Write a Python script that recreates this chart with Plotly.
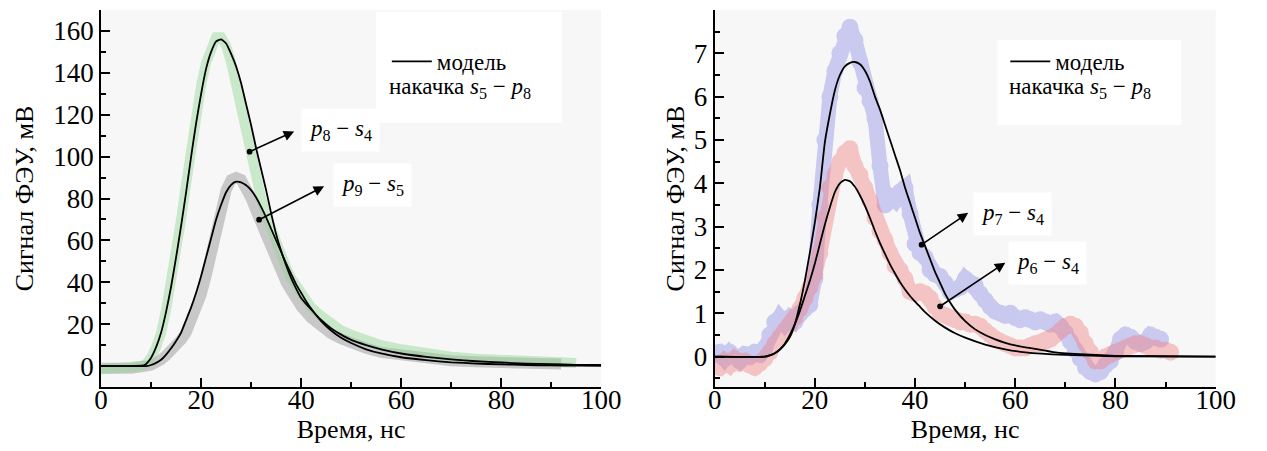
import plotly.graph_objects as go

# ---------------- Left panel data ----------------
green_model_t = [0, 5, 8.5, 9, 10, 11, 12, 13, 14, 15, 16, 17, 18, 19, 20, 21, 22, 23, 24, 25, 26, 27, 28, 29, 30,
                 31, 32, 33, 34, 35, 36, 37, 38, 39, 40, 42, 44, 46, 48, 50, 53, 56, 60, 65, 70, 75, 80, 85, 90, 95, 100]
green_model_v = [0, 0, 0.3, 1, 4, 9, 16, 26, 38, 52, 67, 83, 100, 116, 130, 142, 150, 155, 156, 154, 149, 143, 135,
                 125, 115, 104, 94, 84, 73, 63, 55, 48, 42, 37, 32.5, 27, 22, 18, 15, 12.5, 10, 8, 6, 4.4, 3.2, 2.3,
                 1.7, 1.2, 0.9, 0.6, 0.5]

grey_model_t = [0, 5, 9, 10, 11, 12, 13, 14, 15, 16, 17, 18, 19, 20, 21, 22, 23, 24, 25, 26, 27, 28, 29, 30, 31, 32,
                33, 34, 35, 36, 37, 38, 39, 40, 41, 42, 44, 46, 48, 50, 53, 56, 60, 65, 70, 75, 80, 85, 90, 95, 100]
grey_model_v = [0, 0, 0, 0.5, 1.5, 3, 5.5, 8.5, 12, 16, 22, 28, 35, 43, 52, 61, 70, 77, 83, 86.5, 88, 87.7, 86.3, 84,
                80.5, 76, 71, 65.5, 60, 54.5, 49, 44, 39, 35, 31, 27.5, 21.5, 17, 13.5, 11, 8, 6, 4.2, 2.8, 1.8, 1.2,
                0.8, 0.5, 0.3, 0.2, 0.1]

green_data_t = [0, 2, 4, 6, 8, 9, 10, 11, 12, 13, 14, 15, 16, 17, 18, 19, 20, 21, 22, 23, 24, 25, 26, 27, 28, 29, 30,
                31, 32, 33, 34, 35, 36, 37, 38, 39, 40, 42, 44, 46, 48, 50, 53, 56, 60, 65, 70, 75, 80, 85, 90, 95]
green_data_v = [-1.5, -1, -1.5, -1, 0, 1, 4, 9, 16, 27, 40, 55, 70, 87, 104, 120, 134, 145, 153, 157, 157, 153, 145,
                134, 122, 110, 99, 89, 80, 72, 65, 58, 52, 47, 42, 38, 34, 28, 24, 20, 17, 15, 12, 10, 8, 6, 4.5, 3.5,
                2.8, 2.2, 1.8, 1.5]

grey_data_t = [0, 2, 4, 6, 8, 9, 10, 11, 12, 13, 14, 15, 16, 17, 18, 19, 20, 21, 22, 23, 24, 25, 26, 27, 28, 29, 30,
               31, 32, 33, 34, 35, 36, 37, 38, 39, 40, 42, 44, 46, 48, 50, 53, 56, 60, 65, 70, 75, 80, 85, 92]
grey_data_v = [-1, -1.5, -1, -1, -1, 0, 0.5, 1.5, 3, 5, 7, 9.5, 12.5, 16, 21, 27, 34, 43, 53, 64, 75, 84, 89, 90, 89,
               85, 80, 74, 68, 62, 56, 50, 45, 40, 36, 32, 28.5, 23, 19, 15.5, 13, 11, 8.5, 6.5, 5, 3.5, 2.5, 2, 1.5,
               1.2, 1]

# ---------------- Right panel data ----------------
blue_model_t = [0, 10, 11, 12, 13, 14, 15, 16, 17, 18, 19, 20, 21, 22, 23, 24, 25, 26, 27, 28, 29, 30, 31, 32, 33,
                34, 35, 36, 37, 38, 39, 40, 41, 42, 43, 44, 45, 46, 47, 48, 50, 52, 54, 56, 58, 60, 64, 68, 74, 80,
                100]
blue_model_v = [0, 0, 0.03, 0.08, 0.16, 0.28, 0.45, 0.75, 1.2, 1.75, 2.4, 3.1, 3.9, 4.95, 5.6, 6.15, 6.5, 6.7, 6.78,
                6.8, 6.75, 6.6, 6.35, 6.0, 5.7, 5.35, 5.0, 4.65, 4.3, 3.9, 3.55, 3.2, 2.85, 2.55, 2.25, 1.95, 1.7,
                1.45, 1.25, 1.08, 0.82, 0.63, 0.5, 0.4, 0.32, 0.26, 0.18, 0.1, 0.05, 0.02, 0]

pink_model_t = [0, 10, 11, 12, 13, 14, 15, 16, 17, 18, 19, 20, 21, 22, 23, 24, 25, 26, 27, 28, 29, 30, 31, 32, 33,
                34, 35, 36, 37, 38, 39, 40, 41, 42, 44, 46, 48, 50, 54, 58, 62, 70, 80, 100]
pink_model_v = [0, 0, 0.03, 0.08, 0.17, 0.3, 0.5, 0.75, 1.05, 1.4, 1.75, 2.15, 2.6, 3.05, 3.45, 3.8, 4.0, 4.08, 4.05,
                3.92, 3.72, 3.48, 3.2, 2.9, 2.62, 2.37, 2.13, 1.92, 1.72, 1.55, 1.4, 1.27, 1.15, 1.03, 0.83, 0.67,
                0.54, 0.44, 0.28, 0.17, 0.1, 0.04, 0.01, 0]

blue_data_t = list(range(0, 90))
blue_data_v = [0.05, 0.1, -0.05, 0.1, 0.0, -0.1, 0.05, 0.0, 0.1, 0.05, 0.2, 0.5, 0.8, 0.9, 0.75, 0.9, 0.8, 1.0, 1.1,
               1.2, 1.8, 3.5, 5.0, 6.0, 6.6, 7.0, 7.4, 7.6, 7.3, 6.8, 6.2, 5.9, 5.5, 4.4, 3.5, 3.7, 3.6, 3.8, 3.9,
               3.3, 2.6, 2.4, 2.3, 2.0, 1.9, 1.85, 1.7, 1.5, 1.55, 1.6, 1.8, 1.7, 1.65, 1.45, 1.3, 1.15, 1.05, 1.0,
               0.95, 1.0, 0.9, 0.85, 0.9, 0.85, 0.8, 0.85, 0.8, 0.75, 0.8, 0.7, 0.55, 0.35, 0.15, -0.05, -0.25,
               -0.35, -0.4, -0.35, -0.2, -0.1, 0.1, 0.4, 0.5, 0.45, 0.35, 0.3, 0.35, 0.5, 0.45, 0.4]

pink_data_t = list(range(0, 92))
pink_data_v = [-0.2, -0.25, -0.1, -0.2, -0.05, -0.15, -0.1, -0.2, -0.25, -0.15, -0.05, 0.1, 0.3, 0.45, 0.6, 0.75,
               0.9, 1.1, 1.35, 1.6, 1.9, 2.4, 3.2, 3.9, 4.2, 4.5, 4.7, 4.8, 4.4, 4.2, 3.9, 3.6, 3.2, 2.9, 2.7, 2.4,
               2.1, 2.0, 1.8, 1.5, 1.45, 1.5, 1.45, 1.35, 1.15, 1.0, 0.95, 0.9, 0.85, 0.8, 0.8, 0.75, 0.75, 0.7,
               0.6, 0.5, 0.4, 0.35, 0.3, 0.25, 0.2, 0.2, 0.2, 0.25, 0.3, 0.3, 0.35, 0.4, 0.5, 0.6, 0.7, 0.75, 0.7,
               0.55, 0.3, 0.1, -0.1, -0.1, 0.0, 0.05, 0.1, 0.15, 0.2, 0.25, 0.3, 0.3, 0.25, 0.2, 0.2, 0.15, 0.15,
               0.1]

x_ticks = [0, 20, 40, 60, 80, 100]
y_ticks_left = [0, 20, 40, 60, 80, 100, 120, 140, 160]
y_ticks_right = [0, 1, 2, 3, 4, 5, 6, 7]

legend_line = "модель"
legend_pump = "накачка <i>s</i><sub>5</sub> − <i>p</i><sub>8</sub>"
label_p8s4 = "<i>p</i><sub>8</sub> − <i>s</i><sub>4</sub>"
label_p9s5 = "<i>p</i><sub>9</sub> − <i>s</i><sub>5</sub>"
label_p7s4 = "<i>p</i><sub>7</sub> − <i>s</i><sub>4</sub>"
label_p6s4 = "<i>p</i><sub>6</sub> − <i>s</i><sub>4</sub>"
x_title = "Время, нс"
y_title = "Сигнал ФЭУ, мВ"

FONT = "Liberation Serif, Times New Roman, DejaVu Serif, serif"
# the page body has an 8px default margin: the figure is sized/positioned to compensate
OFF = 8
W, H = 1267 - OFF, 451 - OFF

def px(p):
    return (p - OFF) / W

def py(p):
    return 1 - (p - OFF) / H

fig = go.Figure()

# data bands
fig.add_trace(go.Scatter(x=grey_data_t, y=grey_data_v, mode="lines", line=dict(color="#9a9a9a", width=11),
                         opacity=0.5, showlegend=False, xaxis="x", yaxis="y", hoverinfo="skip"))
fig.add_trace(go.Scatter(x=green_data_t, y=green_data_v, mode="lines", line=dict(color="#92d492", width=10),
                         opacity=0.45, showlegend=False, xaxis="x", yaxis="y", hoverinfo="skip"))
fig.add_trace(go.Scatter(x=blue_data_t, y=blue_data_v, mode="lines+markers",
                         line=dict(color="#8c8ce6", width=15), marker=dict(color="#8c8ce6", size=17),
                         opacity=0.42, showlegend=False, xaxis="x2", yaxis="y2", hoverinfo="skip"))
fig.add_trace(go.Scatter(x=pink_data_t, y=pink_data_v, mode="lines+markers",
                         line=dict(color="#f07c7c", width=15), marker=dict(color="#f07c7c", size=17),
                         opacity=0.42, showlegend=False, xaxis="x2", yaxis="y2", hoverinfo="skip"))

# model curves
mline = dict(color="black", width=1.8, shape="spline", smoothing=0.5)
fig.add_trace(go.Scatter(x=green_model_t, y=green_model_v, mode="lines", line=mline, name=legend_line,
                         showlegend=True, legend="legend", xaxis="x", yaxis="y"))
fig.add_trace(go.Scatter(x=grey_model_t, y=grey_model_v, mode="lines", line=mline, showlegend=False,
                         xaxis="x", yaxis="y"))
fig.add_trace(go.Scatter(x=blue_model_t, y=blue_model_v, mode="lines", line=mline, name=legend_line,
                         showlegend=True, legend="legend2", xaxis="x2", yaxis="y2"))
fig.add_trace(go.Scatter(x=pink_model_t, y=pink_model_v, mode="lines", line=mline, showlegend=False,
                         xaxis="x2", yaxis="y2"))

tickfont = dict(family=FONT, size=27, color="black")
titlefont = dict(family=FONT, size=26, color="black")

def xaxis(domain, anchor):
    return dict(domain=domain, anchor=anchor, range=[0, 100], tickmode="array", tickvals=x_ticks,
                ticks="inside", ticklen=9, tickwidth=2, tickcolor="black", showline=True, linewidth=2,
                linecolor="black", showgrid=False, zeroline=False, tickfont=tickfont, ticklabelstandoff=-12,
                title=dict(text=x_title, font=titlefont, standoff=0),
                minor=dict(dtick=10, tick0=0, ticks="inside", ticklen=5, tickwidth=2, tickcolor="black",
                           showgrid=False))

def yaxis(domain, anchor, rng, ticks, minor_dtick, standoff):
    return dict(domain=domain, anchor=anchor, range=rng, tickmode="array", tickvals=ticks,
                ticks="inside", ticklen=9, tickwidth=2, tickcolor="black", showline=True, linewidth=2,
                linecolor="black", showgrid=False, zeroline=False, tickfont=tickfont,
                title=dict(text=y_title, font=titlefont, standoff=standoff),
                minor=dict(dtick=minor_dtick, tick0=0, ticks="inside", ticklen=5, tickwidth=2,
                           tickcolor="black", showgrid=False))

xd1 = [px(96), px(607)]
xd2 = [px(723), px(1235)]
yd = [py(387), py(10)]

legend_style = dict(font=dict(family=FONT, size=23, color="black"), bgcolor="rgba(0,0,0,0)", borderwidth=0,
                    xanchor="left", yanchor="top", itemwidth=40, tracegroupgap=0)

fig.update_layout(
    width=W, height=H, autosize=False,
    margin=dict(l=0, r=0, t=0, b=0),
    paper_bgcolor="white", plot_bgcolor="#f7f7f7",
    font=dict(family=FONT, color="black"),
    xaxis=xaxis(xd1, "y"), yaxis=yaxis(yd, "x", [-10, 170], y_ticks_left, 10, 12),
    xaxis2=xaxis(xd2, "y2"), yaxis2=yaxis(yd, "x2", [-0.7, 8.0], y_ticks_right, 0.5, 2),
    legend=dict(x=px(388), y=py(40), **legend_style),
    legend2=dict(x=px(1020), y=py(40), **legend_style),
)

# white boxes behind the key (paper background of the original figure)
shapes = [
    dict(type="rect", xref="paper", yref="paper", x0=px(377), x1=px(567), y0=py(123), y1=py(12),
         fillcolor="white", line=dict(width=0), layer="below"),
    dict(type="rect", xref="paper", yref="paper", x0=px(1012), x1=px(1200), y0=py(125), y1=py(40),
         fillcolor="white", line=dict(width=0), layer="below"),
]
fig.update_layout(shapes=shapes)

ann_font = dict(family=FONT, size=23, color="black")
annotations = [
    dict(text=legend_pump, xref="paper", yref="paper", x=px(388), y=py(88), xanchor="left",
         yanchor="middle", showarrow=False, font=ann_font),
    dict(text=legend_pump, xref="paper", yref="paper", x=px(1022), y=py(88), xanchor="left",
         yanchor="middle", showarrow=False, font=ann_font),
    # text labels
    dict(text=label_p8s4, xref="x", yref="y", x=39.9, y=112.5, xanchor="left", yanchor="middle",
         showarrow=False, font=ann_font, bgcolor="white", borderpad=7),
    dict(text=label_p9s5, xref="x", yref="y", x=46.4, y=86.5, xanchor="left", yanchor="middle",
         showarrow=False, font=ann_font, bgcolor="white", borderpad=7),
    dict(text=label_p7s4, xref="x2", yref="y2", x=51.6, y=3.3, xanchor="left", yanchor="middle",
         showarrow=False, font=ann_font, bgcolor="white", borderpad=7),
    dict(text=label_p6s4, xref="x2", yref="y2", x=58.6, y=2.17, xanchor="left", yanchor="middle",
         showarrow=False, font=ann_font, bgcolor="white", borderpad=7),
]
# arrows (dot on curve -> arrowhead near label)
arrows = [
    ("x", "y", 29.4, 102, 38.6, 112),
    ("x", "y", 31.3, 69.5, 44.6, 85.8),
    ("x2", "y2", 41.0, 2.56, 50.6, 3.32),
    ("x2", "y2", 44.7, 1.14, 58.0, 2.17),
]
for xr, yr, x0, y0, x1, y1 in arrows:
    annotations.append(dict(text="", xref=xr, yref=yr, axref=xr, ayref=yr, x=x1, y=y1, ax=x0, ay=y0,
                            showarrow=True, arrowhead=2, arrowsize=1.3, arrowwidth=1.6, arrowcolor="black",
                            arrowside="end+start", startarrowhead=6, startarrowsize=0.9,
                            standoff=0, startstandoff=0))
fig.update_layout(annotations=annotations)

fig.write_html("out.html")
